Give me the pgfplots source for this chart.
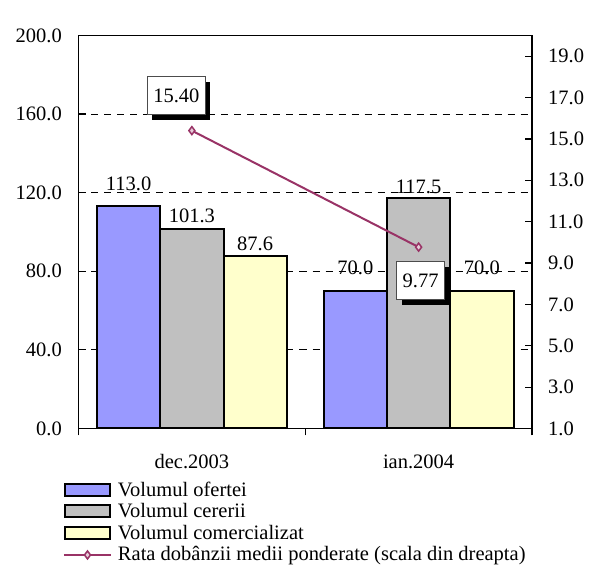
\documentclass[border=0pt]{standalone}
\usepackage{fontspec}
\setmainfont{Liberation Serif}
\usepackage{pgfplots}
\pgfplotsset{compat=1.18}
\usepackage{pgfplotstable}
\usetikzlibrary{shadows}
\definecolor{cblue}{HTML}{9999FF}
\definecolor{cgray}{HTML}{C0C0C0}
\definecolor{cyel}{HTML}{FFFFCC}
\definecolor{cline}{HTML}{993366}

\pgfplotstableread{
x of oo ce oc co oco
0 113.0 16 101.3 7 87.6 6
1 70.0 16.5 117.5 4 70.0 16.5
}\bars
\pgfplotstableread{
x r dx dy
0 15.40 -15.5 35
1 9.77 2 -33.5
}\rate

\pgfplotsset{
  barleg/.style={legend image code/.code={\path (0pt,0pt) (47pt,0pt); \draw[##1] (1pt,0.7pt) rectangle (46pt,12.7pt);}},
  linleg/.style={legend image code/.code={\path (0pt,0pt) (47pt,0pt); \draw[mark repeat=2,mark phase=2,##1] plot coordinates {(0pt,5.7pt) (23.5pt,5.7pt) (47pt,5.7pt)};}},
  common/.style={
    scale only axis, width=453.5pt, height=393pt,
    xmin=-0.5, xmax=1.5,
    /pgf/number format/assume math mode=true,
    axis line style={line width=1.2pt, black},
    tick style={line width=1.2pt, black},
    major tick length=7pt,
  },
}

\begin{document}
\begin{tikzpicture}[font=\fontsize{20.5}{24}\selectfont]
\path[use as bounding box] (-78.5pt,-138.5pt) rectangle (511.5pt,428.5pt);
\begin{axis}[common,
  ymin=0, ymax=200,
  ybar=0pt, bar width=63.3pt,
  xtick={-0.5,0.5,1.5}, x tick label as interval, xticklabels={dec.2003,ian.2004},
  xtick align=outside,
  xticklabel style={inner sep=0pt, yshift=-19pt},
  ytick={0,40,...,200}, ytick pos=left, xtick pos=left,
  yticklabel style={inner sep=0pt, xshift=-16.5pt, /pgf/number format/fixed, /pgf/number format/zerofill, /pgf/number format/precision=1},
  ymajorgrids, major grid style={black, dash pattern=on 7pt off 6pt, line width=0.8pt},
  nodes near coords={\pgfmathprintnumber[fixed,zerofill,precision=1]{\pgfplotspointmeta}},
  nodes near coords align={anchor=base},
]
\addplot[fill=cblue, draw=black, line width=2pt,
  visualization depends on={\thisrow{oo} \as \myoff},
  every node near coord/.append style={text=black, inner sep=0pt, yshift=\myoff*1pt}]
  table[x=x, y=of] {\bars};
\addplot[fill=cgray, draw=black, line width=2pt,
  visualization depends on={\thisrow{oc} \as \myoff},
  every node near coord/.append style={text=black, inner sep=0pt, yshift=\myoff*1pt}]
  table[x=x, y=ce] {\bars};
\addplot[fill=cyel, draw=black, line width=2pt,
  visualization depends on={\thisrow{oco} \as \myoff},
  every node near coord/.append style={text=black, inner sep=0pt, yshift=\myoff*1pt}]
  table[x=x, y=co] {\bars};
\node[anchor=base west, inner sep=0pt, xshift=-2.5pt, yshift=6pt] at (rel axis cs:0,1) {mil. lei};
\node[anchor=base east, inner sep=0pt, xshift=-11pt, yshift=6pt] at (rel axis cs:1,1) {\%};
\end{axis}
\begin{axis}[common,
  ymin=1, ymax=20,
  axis x line=none, axis y line*=right,
  ytick={1,3,...,19},
  yticklabel style={inner sep=0pt, xshift=16pt, /pgf/number format/fixed, /pgf/number format/zerofill, /pgf/number format/precision=1},
  legend style={at={(0,0)}, anchor=north west, xshift=-15.5pt, yshift=-54pt,
    draw=none, fill=none, inner sep=0pt, outer sep=0pt, row sep=3.4pt, column sep=6pt,
    nodes={inner sep=0pt, text height=14pt, text depth=4pt, anchor=base west}},
  legend cell align=left,
]
\addlegendimage{barleg, fill=cblue, draw=black, line width=2pt}
\addlegendentry{Volumul ofertei}
\addlegendimage{barleg, fill=cgray, draw=black, line width=2pt}
\addlegendentry{Volumul cererii}
\addlegendimage{barleg, fill=cyel, draw=black, line width=2pt}
\addlegendentry{Volumul comercializat}
\addplot[linleg, cline, line width=2pt, mark=diamond*, mark size=4pt,
  mark options={solid, line width=1.5pt, fill=cline!25, draw=cline},
  nodes near coords={\pgfmathprintnumber[fixed,zerofill,precision=2]{\pgfplotspointmeta}},
  visualization depends on={\thisrow{dx} \as \mydx},
  visualization depends on={\thisrow{dy} \as \mydy},
  every node near coord/.append style={anchor=center, text=black, xshift=\mydx*1pt, yshift=\mydy*1pt,
    draw=black!70, line width=0.8pt, fill=white, inner xsep=6pt, inner ysep=0pt, minimum height=38pt,
    drop shadow={shadow xshift=5pt, shadow yshift=-5pt, fill=black, opacity=1, draw=none}}]
  table[x=x, y=r] {\rate};
\addlegendentry{Rata dobânzii medii ponderate (scala din dreapta)}
\end{axis}
\end{tikzpicture}
\end{document}
